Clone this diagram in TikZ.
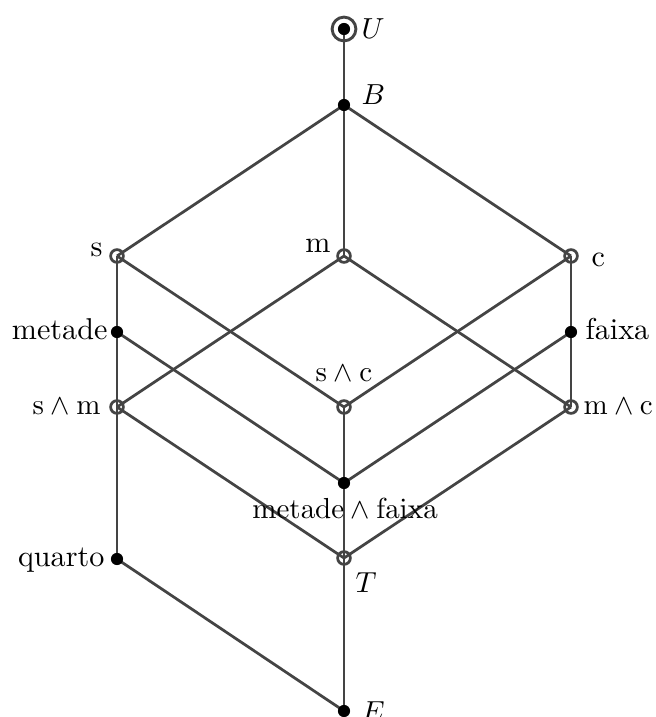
\documentclass[tikz,border=0pt]{standalone}
\usetikzlibrary{backgrounds}
\definecolor{linec}{HTML}{444444}
\begin{document}
\begin{tikzpicture}[x=0.345pt,y=-0.345pt,
  dotn/.style={circle,fill=black,inner sep=0pt,minimum size=4.2pt},
  ringn/.style={circle,draw=linec,line width=0.95pt,inner sep=0pt,minimum size=4.4pt},
  bigring/.style={circle,draw=linec,line width=1pt,inner sep=0pt,minimum size=8.2pt},
  edge/.style={draw=linec,line width=0.95pt},
  lbl/.style={inner sep=0pt,font=\fontsize{10.4pt}{12pt}\selectfont}]
\useasboundingbox (0,0) rectangle (655,717);
% nodes
\node[bigring] (Ur) at (344,29) {};
\node[dotn] (U) at (344,29) {};
\node[dotn] (B) at (344,105) {};
\node[ringn] (s) at (117,256) {};
\node[ringn] (m) at (344,256) {};
\node[ringn] (c) at (571,256) {};
\node[dotn] (me) at (117,332) {};
\node[dotn] (fa) at (571,332) {};
\node[ringn] (sm) at (117,407) {};
\node[ringn] (sc) at (344,407) {};
\node[ringn] (mc) at (571,407) {};
\node[dotn] (mf) at (344,483) {};
\node[ringn] (T) at (344,558) {};
\node[dotn] (q) at (117,559) {};
\node[dotn] (E) at (344,711) {};
% labels
\node[lbl,anchor=west] (lU) at (361,29) {$U$};
\node[lbl,anchor=west] (lB) at (361,95) {$B$};
\node[lbl,anchor=base east] (ls) at (103,257) {s};
\node[lbl,anchor=base east] (lm) at (331,252) {m};
\node[lbl,anchor=base west] (lc) at (591,267) {c};
\node[lbl,anchor=base east] (lme) at (108,339) {metade};
\node[lbl,anchor=base west] (lfa) at (585,339) {faixa};
\node[lbl,anchor=base east] (lsm) at (101,414) {$\mathrm{s}\wedge\mathrm{m}$};
\node[lbl,anchor=base] (lsc) at (344,381) {$\mathrm{s}\wedge\mathrm{c}$};
\node[lbl,anchor=base west] (lmc) at (583,414) {$\mathrm{m}\wedge\mathrm{c}$};
\node[lbl,anchor=base] (lmf) at (345,518) {$\mathrm{metade}\wedge\mathrm{faixa}$};
\node[lbl,anchor=base west] (lT) at (355,592) {$T$};
\node[lbl,anchor=base east] (lq) at (105,566) {quarto};
\node[lbl,anchor=base west] (lE) at (361,721) {$E$};
% edges
\begin{scope}[on background layer]
\path[edge] (U.center) -- (B.center);
\path[edge] (B.center) -- (s.center);
\path[edge] (B.center) -- (m.center);
\path[edge] (B.center) -- (c.center);
\path[edge] (s.center) -- (me.center);
\path[edge] (me.center) -- (sm.center);
\path[edge] (sm.center) -- (q.center);
\path[edge] (q.center) -- (E.center);
\path[edge] (s.center) -- (sc.center);
\path[edge] (m.center) -- (sm.center);
\path[edge] (m.center) -- (mc.center);
\path[edge] (c.center) -- (sc.center);
\path[edge] (c.center) -- (fa.center);
\path[edge] (fa.center) -- (mc.center);
\path[edge] (me.center) -- (mf.center);
\path[edge] (fa.center) -- (mf.center);
\path[edge] (sc.center) -- (mf.center);
\path[edge] (sm.center) -- (T.center);
\path[edge] (mc.center) -- (T.center);
\path[edge] (mf.center) -- (T.center);
\path[edge] (T.center) -- (E.center);
\end{scope}
\end{tikzpicture}
\end{document}
